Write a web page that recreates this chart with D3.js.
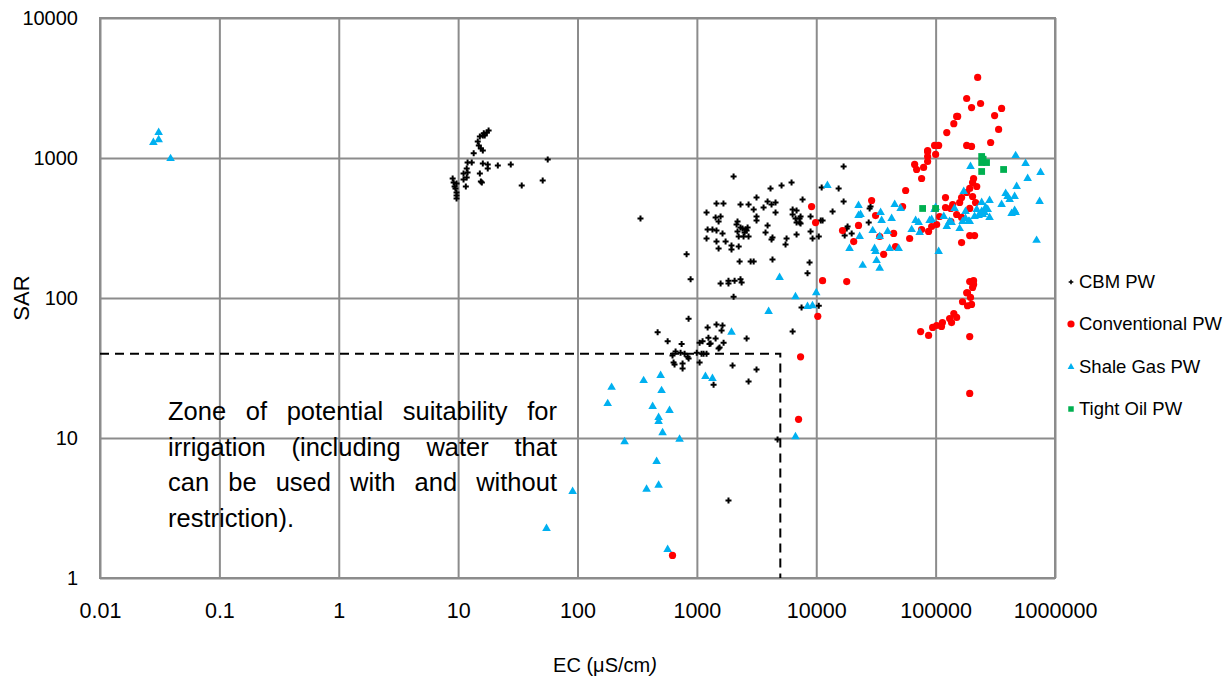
<!DOCTYPE html>
<html><head><meta charset="utf-8">
<script src="https://cdn.jsdelivr.net/npm/d3@7"></script>
<style>body{margin:0;background:#fff} text{font-family:Arial,"Liberation Sans",sans-serif;fill:#000}</style>
</head><body><svg id="c" width="1231" height="682"></svg>
<script>
const xTicks=[0.01,0.1,1,10,100,1000,10000,100000,1000000];
const xTickLabels=["0.01","0.1","1","10","100","1000","10000","100000","1000000"];
const yTicks=[1,10,100,1000,10000];
const yTickLabels=["1","10","100","1000","10000"];
const seriesNames=["CBM PW","Conventional PW","Shale Gas PW","Tight Oil PW"];
const ecLimit=5000, sarLimit=40;
const noteLines=["Zone of potential suitability for","irrigation (including water that","can be used with and without","restriction)."];

// [EC µS/cm, SAR]
const cbmPW=[[18.0,1570],[17.4,1520],[16.4,1500],[16.1,1450],[15.2,1425],[16.7,1450],[14.6,1310],[14.9,1230],[15.5,1170],[16.1,1130],[13.5,1080],[12.0,928],[13.0,928],[16.1,913],[17.7,899],[17.7,841],[21.5,884],[27.6,899],[56.3,975],[11.8,841],[11.1,775],[12.0,788],[11.8,726],[11.1,702],[15.2,775],[15.5,680],[15.8,669],[11.6,626],[51.1,691],[34.1,637],[9.0,714],[9.17,669],[9.7,658],[9.34,626],[9.5,606],[9.7,567],[9.7,540],[9.7,514],
[337,370],[2030,738],[4140,606],[5120,637],[6210,669],[11100,616],[7680,506],[3160,522],[1460,473],[1670,473],[2320,465],[2710,465],[3910,489],[4560,481],[3620,443],[4220,465],[2990,429],[1205,408],[1435,376],[1580,382],[1520,352],[2190,352],[2150,335],[2320,319],[2410,313],[2560,308],[2660,319],[3160,382],[3160,358],[3910,330],[4560,408],[6340,429],[6840,422],[6340,395],[6710,370],[7250,370],[6840,346],[7250,346],[11300,358],[8960,299],[6840,284],[5640,266],[9310,266],[10500,275],[5530,241],[3760,294],[4300,270],[4220,262],[1230,308],[1350,308],[1460,303],[1640,289],[2190,299],[2240,275],[2460,275],[2710,275],[2510,294],[2610,303],[1205,266],[1460,253],[1740,253],[1950,237],[2240,233],[1950,222],[1520,226],[820,205],[2280,182],[2820,182],[2990,182],[4300,188],[8790,179],[8450,150],[886,136],[1580,127],[1840,133],[1840,127],[2070,133],[2320,136],[2370,129],[2030,102],[7530,85.5],[10500,88],
[852,71],[469,57],[569,49],[745,47],[663,41.5],[730,40.6],[789,40],[625,38.8],[836,38],[852,37],[638,34.6],[650,33.5],[759,34],[759,31.4],[1054,48],[1116,49],[1094,40],[1205,40],[998,40.6],[1138,40],[1230,61.6],[1460,64.7],[1640,63.6],[1610,58.6],[1250,52],[1435,51.4],[1276,47],[1520,43.6],[1674,48],[1054,34.6],[1380,24],[1990,33],[2610,51.4],[3160,30.8],[2710,25.3],[6340,57.6],[4740,9.75],[1840,3.58],[1550,44.3],[1303,47.3],
[13700,415],[16950,489],[18300,324],[18000,313],[17300,279],[19800,289],[16950,870],[15400,606],[28500,450],[28000,436],[27500,346],[7390,382],[7390,340],[8960,382],[10900,358]];

const conventionalPW=[[625,1.45],[9140,450],[9870,346],[11300,133],[18000,131],[16600,303],[20600,253],[22600,330],[29100,497],[31400,388],[34000,275],[44500,289],[46200,233],[36700,205],[56100,586],[52900,450],[60600,266],[66700,900],[69300,828],[79300,856],[85700,944],[76300,714],[85700,1110],[100000,1060],[76300,308],[87300,299],[92600,324],[102000,335],[108000,382],[121000,522],[121000,443],[134000,436],[139000,465],[150000,395],[159000,481],[165000,522],[182000,567],[193000,606],[204000,668],[204000,531],[221000,626],[216000,481],[193000,436],[165000,376],[134000,352],[165000,249],[193000,279],[212000,279],[193000,131],[204000,119],[185000,109],[196000,101],[168000,94],[200000,90],[225000,3760],[182000,2660],[238000,2450],[200000,2290],[357000,2260],[312000,2010],[153000,1980],[150000,1980],[142000,1760],[337000,1600],[124000,1520],[289000,1290],[182000,1230],[200000,1210],[106000,1230],[98000,1230],[85700,1130],[85700,1025],[208000,714],[208000,133],[208000,125],[182000,109],[185000,88],[150000,72.6],[142000,77.5],[131000,71.4],[136000,66.8],[114000,66.8],[112000,62.6],[102000,63.6],[94400,61.6],[74900,57.6],[87300,54],[193000,53],[193000,20.8],[10300,74],[7390,38],[7110,13.6]];

const shaleGasPW=[[0.031,1520],[0.028,1290],[0.031,1350],[0.039,990],[55,2.26],[91,4.15],[179,17.6],[193,23],[358,25.7],[497,28],[506,21.8],[426,16.8],[590,15.7],[478,14],[478,13.1],[516,10.9],[248,9.4],[716,9.8],[460,6.8],[478,4.6],[379,4.3],[569,1.6],[1180,27.5],[1350,26.6],[1950,57],[3990,80],[4930,140],[6700,102],[8450,87],[9300,88],[10000,109],[6700,10.2],[22600,388],[19000,226],[12400,637],[22600,458],[23500,395],[34600,408],[35300,358],[45400,465],[50900,436],[42800,370],[29700,303],[39600,299],[34000,275],[23100,275],[30800,226],[31400,215],[41200,226],[49000,226],[32000,185],[24500,171],[34000,163],[106000,215],[68000,358],[72100,346],[63000,308],[73500,294],[89100,358],[98000,429],[124000,324],[117000,382],[144000,436],[136000,346],[172000,577],[178000,415],[178000,370],[159000,313],[189000,352],[196000,870],[243000,481],[243000,415],[262000,443],[273000,429],[283000,497],[283000,376],[248000,395],[229000,388],[357000,465],[386000,557],[401000,531],[417000,506],[459000,531],[477000,626],[433000,402],[459000,422],[468000,408],[590000,714],[567000,913],[468000,1040],[757000,788],[743000,489],[701000,258],[100000,443],[131000,352],[221000,429],[257000,408],[168000,352],[193000,352],[212000,382],[92600,364]];

const tightOilPW=[[243000,1025],[243000,928],[267000,928],[243000,801],[371000,828],[77800,436],[100000,436],[250000,980]];

const svg=d3.select("#c");
const L=100,R=1055,T=18,B=578;
const x=d3.scaleLog().domain([0.01,1e6]).range([L,R]);
const y=d3.scaleLog().domain([1,1e4]).range([B,T]);
const gridCol="#8c8c8c";

const gx=svg.append("g").attr("transform",`translate(0,${B})`)
  .call(d3.axisBottom(x).tickValues(xTicks).tickSize(-(B-T)).tickFormat((d,i)=>xTickLabels[i]));
const gy=svg.append("g").attr("transform",`translate(${L},0)`)
  .call(d3.axisLeft(y).tickValues(yTicks).tickSize(-(R-L)).tickFormat((d,i)=>yTickLabels[i]));
[gx,gy].forEach(g=>{
  g.select(".domain").remove();
  g.selectAll(".tick line").attr("stroke",gridCol).attr("stroke-width",2);
  g.selectAll(".tick text").attr("font-family","Arial, 'Liberation Sans', sans-serif").attr("fill","#000");
});
gx.selectAll(".tick text").attr("font-size",21.5).attr("dy","0.35em").attr("y",32);
gy.selectAll(".tick text").attr("font-size",20).attr("x",-22);
svg.append("rect").attr("x",L).attr("y",T).attr("width",R-L).attr("height",B-T)
  .attr("fill","none").attr("stroke",gridCol).attr("stroke-width",2);

// dashed zone
svg.append("path")
  .attr("d",`M${x(0.01)},${y(sarLimit)}H${x(ecLimit)}V${y(1)}`)
  .attr("fill","none").attr("stroke","#000").attr("stroke-width",2).attr("stroke-dasharray","9,6");

// annotation (justified)
const noteX0=168,noteX1=557,noteY0=420,noteDy=35.7,noteFs=25.5;
noteLines.forEach((line,i)=>{
  const t=svg.append("text").attr("y",noteY0+i*noteDy).attr("font-size",noteFs);
  const words=line.split(" ");
  const spans=words.map(w=>t.append("tspan").text(w));
  const widths=spans.map(s=>s.node().getComputedTextLength());
  const total=d3.sum(widths);
  const last=i===noteLines.length-1;
  const space=last?noteFs*0.28:(noteX1-noteX0-total)/(words.length-1);
  let cx=noteX0;
  spans.forEach((s,k)=>{s.attr("x",cx);cx+=widths[k]+space;});
});

// series
const sym={
  cbm:d3.symbol().type(d3.symbolCross).size(20),
  tri:d3.symbol().type(d3.symbolTriangle).size(32),
  sq:d3.symbol().type(d3.symbolSquare).size(46)
};
svg.append("g").selectAll("path").data(cbmPW).join("path")
  .attr("transform",d=>`translate(${x(d[0])},${y(d[1])})`).attr("d",sym.cbm).attr("fill","#000");
svg.append("g").selectAll("circle").data(conventionalPW).join("circle")
  .attr("cx",d=>x(d[0])).attr("cy",d=>y(d[1])).attr("r",3.6).attr("fill","#ff0000");
svg.append("g").selectAll("path").data(shaleGasPW).join("path")
  .attr("transform",d=>`translate(${x(d[0])},${y(d[1])})`).attr("d",sym.tri).attr("fill","#00b0f0");
svg.append("g").selectAll("path").data(tightOilPW).join("path")
  .attr("transform",d=>`translate(${x(d[0])},${y(d[1])})`).attr("d",sym.sq).attr("fill","#00b050");

// axis titles
svg.append("text").attr("transform","translate(21,298) rotate(-90)").attr("text-anchor","middle")
  .attr("dy","0.35em").attr("font-size",22).text("SAR");
const xt=svg.append("text").attr("x",605).attr("y",672).attr("text-anchor","middle").attr("font-size",20);
xt.append("tspan").text("EC (μS/cm");
xt.append("tspan").attr("font-style","italic").text(")");

// legend
const legY=[282,324,367,409];
const lg=svg.append("g");
const legMarks=[
  g=>g.append("path").attr("d",d3.symbol().type(d3.symbolCross).size(12)).attr("fill","#000"),
  g=>g.append("circle").attr("r",3.6).attr("fill","#ff0000"),
  g=>g.append("path").attr("d",d3.symbol().type(d3.symbolTriangle).size(20)).attr("fill","#00b0f0"),
  g=>g.append("path").attr("d",d3.symbol().type(d3.symbolSquare).size(30)).attr("fill","#00b050")
];
seriesNames.forEach((n,i)=>{
  const g=lg.append("g").attr("transform",`translate(1071,${legY[i]})`);
  legMarks[i](g);
  g.append("text").attr("x",8).attr("dy","0.35em").attr("font-size",18.5).text(n);
});
</script></body></html>
